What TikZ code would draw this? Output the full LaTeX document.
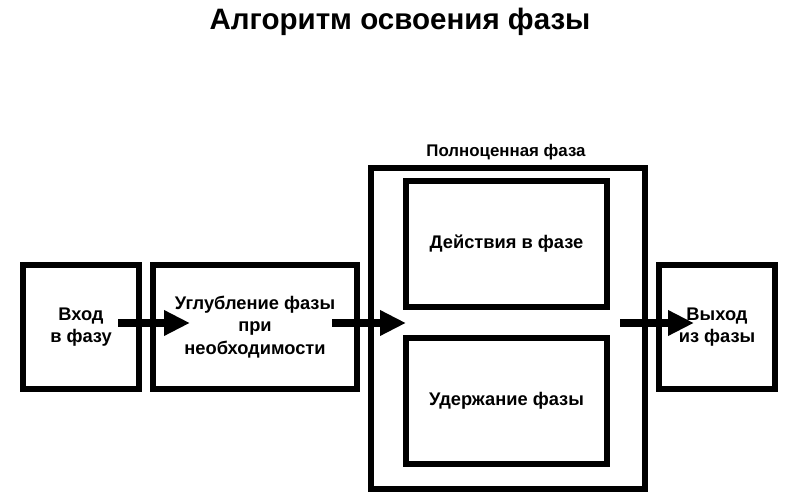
\documentclass[tikz,border=0pt]{standalone}
\usepackage{fontspec}
\setmainfont{Liberation Sans}
\usetikzlibrary{arrows.meta,positioning}

\begin{document}
\begin{tikzpicture}[>={Triangle[length=0.65cm,width=0.6cm]}]
    \tikzset{box/.style={draw, rectangle, line width=4.3pt, align=center, inner sep=0pt, font=\bfseries\fontsize{13}{16}\selectfont},
    flow/.style={->, line width=5pt},
    }
    \useasboundingbox (0,0) rectangle (20,12.5);
    \node [font=\bfseries\fontsize{21}{25}\selectfont] (title) at (10,11.95) {Алгоритм освоения фазы};
    \node [box, minimum width=2.9cm, minimum height=3.1cm] (enter) at (2.025,4.325) {Вход\\в фазу};
    \node [box, minimum width=5.1cm, minimum height=3.1cm] (deepen) at (6.375,4.325) {Углубление фазы\\при\\необходимости};
    \node [box, minimum width=6.85cm, minimum height=8.025cm] (phase) at (12.7,4.2875) {};
    \node [font=\bfseries\fontsize{12}{14}\selectfont] (phaselabel) at (12.65,8.7) {Полноценная фаза};
    \node [box, minimum width=5.025cm, minimum height=3.15cm] (actions) at (12.6625,6.4) {Действия в фазе};
    \node [box, minimum width=5.025cm, minimum height=3.15cm] (hold) at (12.6625,2.475) {Удержание фазы};
    \node [box, minimum width=2.9cm, minimum height=3.1cm] (exit) at (17.925,4.325) {Выход\\из фазы};
    %% arrow ends
    \coordinate (a1) at (2.95,4.425);
    \coordinate (b1) at (4.75,4.425);
    \coordinate (a2) at (8.3,4.425);
    \coordinate (b2) at (10.15,4.425);
    \coordinate (a3) at (15.5,4.425);
    \coordinate (b3) at (17.35,4.425);

% paths
    \draw [flow] (a1) -- (b1);
    \draw [flow] (a2) -- (b2);
    \draw [flow] (a3) -- (b3);
\end{tikzpicture}
\end{document}
